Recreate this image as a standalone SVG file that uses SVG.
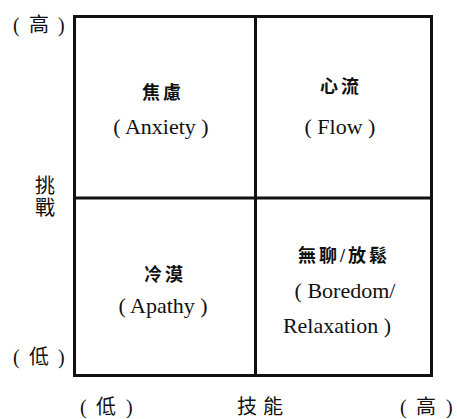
<svg xmlns="http://www.w3.org/2000/svg" width="457" height="419" viewBox="0 0 457 419">
<style>
text{font-family:"Liberation Serif","Noto Sans CJK TC",serif;fill:#111;}
.ax{font-size:20px;}
.q{font-family:"Liberation Serif",serif;font-size:22px;text-anchor:middle;}
.qc{font-size:18px;font-weight:bold;text-anchor:middle;letter-spacing:3px;}
.ln{stroke:#111;stroke-width:3;fill:none;}
</style>
<rect width="457" height="419" fill="#fff"/>
<g id="edges">
<rect class="ln" x="74.5" y="16.5" width="357" height="359"/>
<line class="ln" x1="255.5" y1="16.5" x2="255.5" y2="375.5"/>
<line class="ln" x1="74.5" y1="198" x2="431.5" y2="198"/>
</g>
<g id="anxiety">
<text class="qc" x="163" y="99">焦慮</text>
<text class="q" x="161" y="134">( Anxiety )</text>
</g>
<g id="flow">
<text class="qc" x="341" y="93">心流</text>
<text class="q" x="340" y="134">( Flow )</text>
</g>
<g id="apathy">
<text class="qc" x="165" y="281">冷漠</text>
<text class="q" x="163" y="313">( Apathy )</text>
</g>
<g id="boredom">
<text class="qc" x="344" y="262">無聊/放鬆</text>
<text class="q" x="345" y="298">( Boredom/</text>
<text class="q" x="337" y="333">Relaxation )</text>
</g>
<g id="yaxis">
<text class="ax" y="32"><tspan x="13">(</tspan><tspan x="29">高</tspan><tspan x="58">)</tspan></text>
<text class="ax" x="35" y="193">挑</text>
<text class="ax" x="35" y="215">戰</text>
<text class="ax" y="364"><tspan x="13">(</tspan><tspan x="29">低</tspan><tspan x="58">)</tspan></text>
</g>
<g id="xaxis">
<text class="ax" y="414"><tspan x="80">(</tspan><tspan x="96">低</tspan><tspan x="126">)</tspan></text>
<text class="ax" x="237" y="414" letter-spacing="6">技能</text>
<text class="ax" y="414"><tspan x="400">(</tspan><tspan x="416">高</tspan><tspan x="446">)</tspan></text>
</g>
</svg>
